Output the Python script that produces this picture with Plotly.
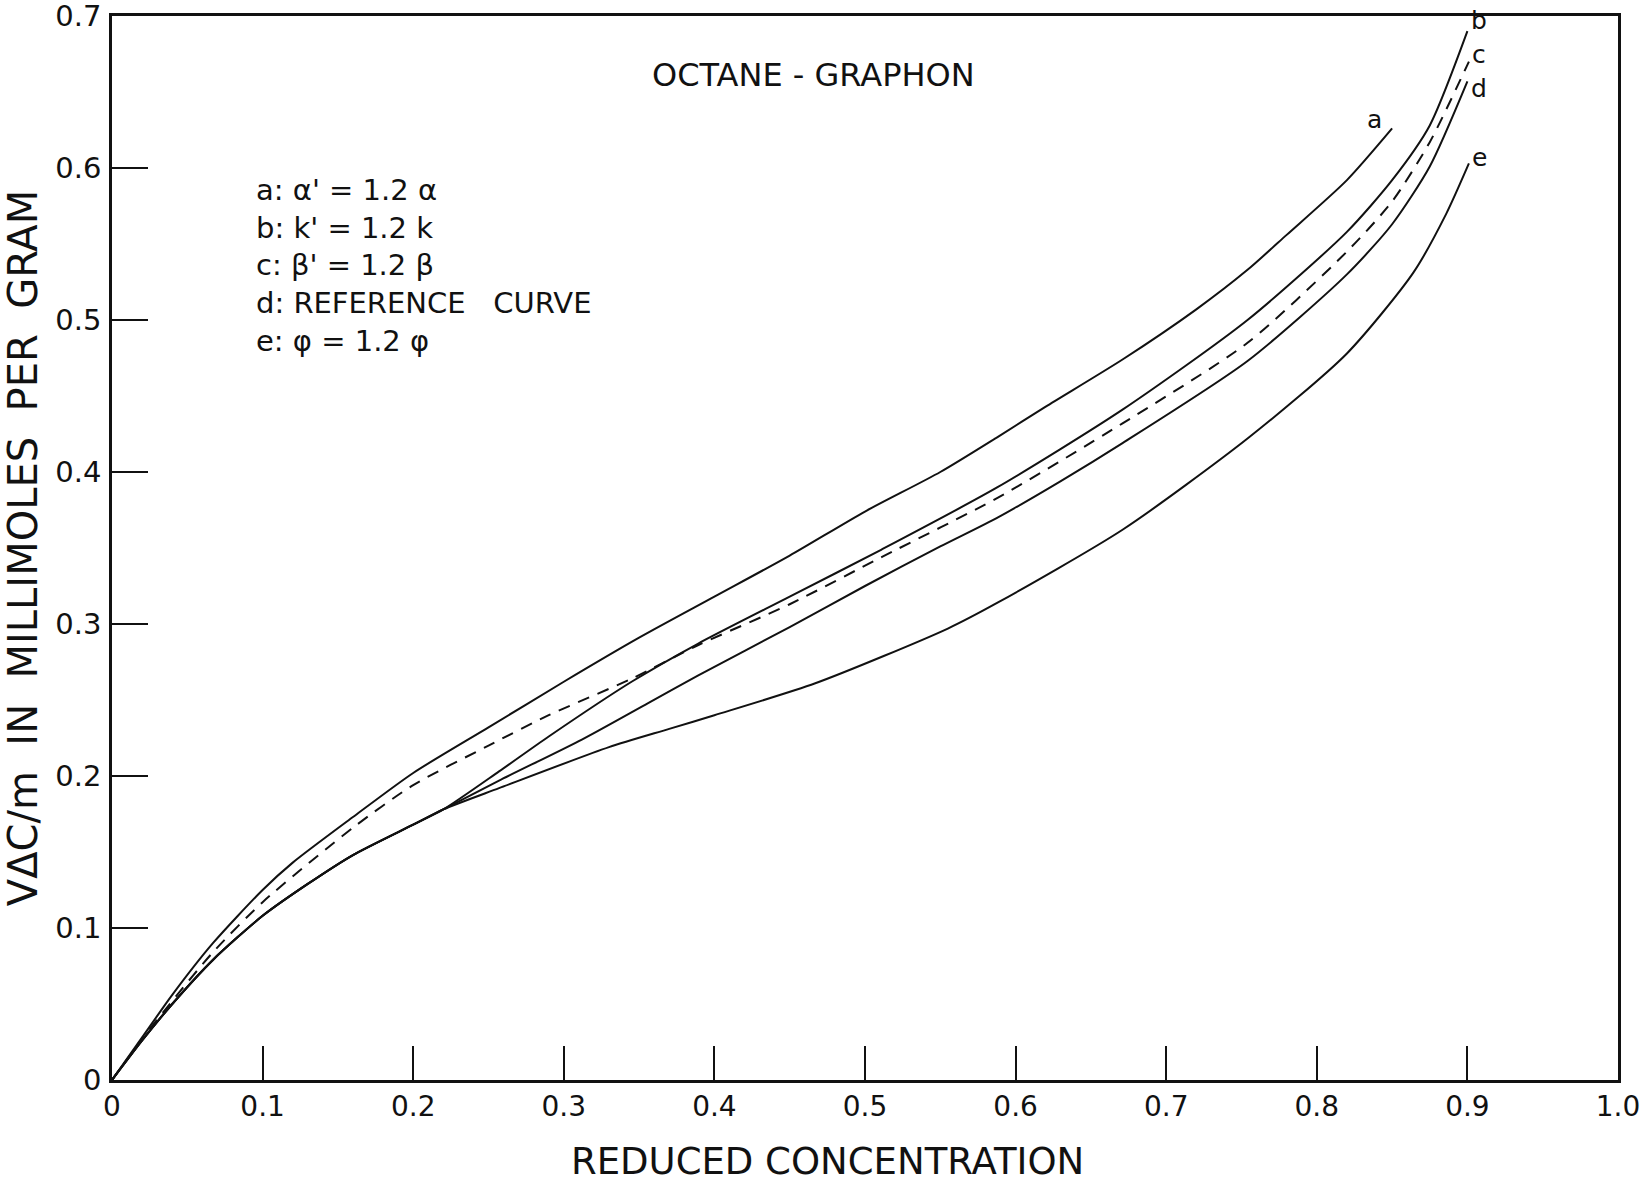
import plotly.graph_objects as go

# ---- data ----
a_x = [0, 0.02, 0.04, 0.067, 0.1, 0.12, 0.16, 0.2, 0.25, 0.3, 0.35, 0.4, 0.45, 0.5, 0.55, 0.588, 0.62, 0.671, 0.72, 0.754, 0.78, 0.82, 0.85]
a_y = [0, 0.028, 0.056, 0.090, 0.125, 0.143, 0.173, 0.202, 0.232, 0.262, 0.291, 0.318, 0.345, 0.374, 0.400, 0.423, 0.443, 0.474, 0.507, 0.533, 0.556, 0.592, 0.626]

b_x = [0, 0.02, 0.04, 0.067, 0.1, 0.13, 0.16, 0.2, 0.22, 0.257, 0.29, 0.345, 0.389, 0.45, 0.511, 0.588, 0.671, 0.754, 0.82, 0.85, 0.875, 0.9]
b_y = [0, 0.026, 0.050, 0.079, 0.108, 0.129, 0.148, 0.168, 0.178, 0.203, 0.226, 0.262, 0.287, 0.318, 0.349, 0.390, 0.441, 0.500, 0.558, 0.592, 0.628, 0.690]

c_x = [0, 0.02, 0.04, 0.067, 0.1, 0.16, 0.2, 0.25, 0.29, 0.345, 0.389, 0.45, 0.511, 0.588, 0.671, 0.754, 0.82, 0.85, 0.875, 0.901]
c_y = [0, 0.027, 0.052, 0.084, 0.117, 0.166, 0.194, 0.220, 0.240, 0.264, 0.286, 0.313, 0.344, 0.383, 0.432, 0.485, 0.545, 0.578, 0.617, 0.670]

d_x = [0, 0.02, 0.04, 0.067, 0.1, 0.13, 0.16, 0.2, 0.22, 0.257, 0.312, 0.356, 0.389, 0.45, 0.5, 0.55, 0.588, 0.63, 0.671, 0.754, 0.82, 0.85, 0.875, 0.9]
d_y = [0, 0.026, 0.050, 0.079, 0.108, 0.129, 0.148, 0.168, 0.178, 0.197, 0.224, 0.248, 0.266, 0.298, 0.325, 0.351, 0.370, 0.394, 0.419, 0.473, 0.530, 0.563, 0.601, 0.657]

e_x = [0, 0.02, 0.04, 0.067, 0.1, 0.13, 0.16, 0.2, 0.22, 0.257, 0.33, 0.37, 0.40, 0.467, 0.555, 0.588, 0.671, 0.754, 0.82, 0.864, 0.886, 0.901]
e_y = [0, 0.026, 0.050, 0.079, 0.108, 0.129, 0.148, 0.168, 0.178, 0.192, 0.219, 0.231, 0.240, 0.261, 0.297, 0.314, 0.362, 0.422, 0.478, 0.531, 0.570, 0.603]

x_ticks = [0, 0.1, 0.2, 0.3, 0.4, 0.5, 0.6, 0.7, 0.8, 0.9, 1.0]
x_tick_labels = ["0", "0.1", "0.2", "0.3", "0.4", "0.5", "0.6", "0.7", "0.8", "0.9", "1.0"]
y_ticks = [0, 0.1, 0.2, 0.3, 0.4, 0.5, 0.6, 0.7]
y_tick_labels = ["0", "0.1", "0.2", "0.3", "0.4", "0.5", "0.6", "0.7"]

curve_labels = ["a", "b", "c", "d", "e"]
curve_label_x = [0.838, 0.908, 0.908, 0.908, 0.908]
curve_label_y = [0.632, 0.697, 0.675, 0.652, 0.607]

key_lines = ["a: α' = 1.2 α", "b: k' = 1.2 k", "c: β' = 1.2 β", "d: REFERENCE   CURVE", "e: φ = 1.2 φ"]

FONT = "DejaVu Sans"
BLACK = "#111111"

fig = go.Figure()
series = [(a_x, a_y, "solid", "a"), (b_x, b_y, "solid", "b"), (c_x, c_y, "12px,9px", "c"),
          (d_x, d_y, "solid", "d"), (e_x, e_y, "solid", "e")]
for xs, ys, dash, name in series:
    fig.add_trace(go.Scatter(x=xs, y=ys, mode="lines", name=name,
                             line=dict(color=BLACK, width=2, dash=dash, shape="spline", smoothing=0.7),
                             showlegend=False, hoverinfo="skip"))

for t, x, y in zip(curve_labels, curve_label_x, curve_label_y):
    fig.add_annotation(x=x, y=y, text=t, showarrow=False, xanchor="center", yanchor="middle",
                       borderpad=0, font=dict(family=FONT, size=25, color=BLACK))

fig.add_annotation(x=0.094, y=0.536, text="<br>".join(key_lines), showarrow=False,
                   xanchor="left", yanchor="middle", align="left",
                   font=dict(family=FONT, size=29, color=BLACK))

fig.add_annotation(x=0.466, y=0.661, text="OCTANE - GRAPHON", showarrow=False, xanchor="center",
                   yanchor="middle", font=dict(family=FONT, size=32, color=BLACK))

fig.add_annotation(xref="paper", yref="paper", x=0.475, y=-0.0765, text="REDUCED CONCENTRATION",
                   showarrow=False, xanchor="center", yanchor="middle",
                   font=dict(family=FONT, size=37, color=BLACK))

fig.update_layout(
    width=1648, height=1184,
    margin=dict(l=112, r=30, t=16, b=104),
    paper_bgcolor="white", plot_bgcolor="white",
    font=dict(family=FONT, color=BLACK),
    xaxis=dict(range=[0, 1.0], tickvals=x_ticks, ticktext=x_tick_labels, ticks="inside",
               ticklen=34, tickwidth=2, tickcolor=BLACK, showgrid=False, zeroline=False,
               showline=True, linewidth=2.5, linecolor=BLACK, mirror=True, automargin=False,
               ticklabeloverflow="allow",
               tickfont=dict(family=FONT, size=28, color=BLACK)),
    yaxis=dict(range=[0, 0.7], tickvals=y_ticks, ticktext=y_tick_labels, ticks="inside",
               ticklen=36, tickwidth=2, tickcolor=BLACK, showgrid=False, zeroline=False,
               showline=True, linewidth=2.5, linecolor=BLACK, mirror=True, automargin=False,
               ticklabelstandoff=2, ticklabeloverflow="allow",
               tickfont=dict(family=FONT, size=29, color=BLACK),
               title=dict(text="VΔC/m  IN  MILLIMOLES  PER  GRAM", standoff=16,
                          font=dict(family=FONT, size=40, color=BLACK))),
)

fig.write_html("out.html")
